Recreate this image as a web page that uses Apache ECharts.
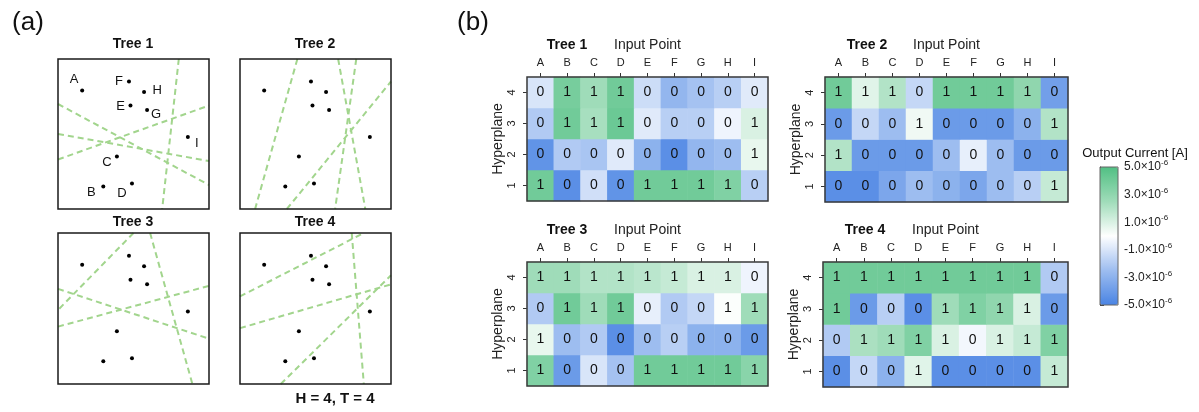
<!DOCTYPE html>
<html><head><meta charset="utf-8">
<script src="https://cdn.jsdelivr.net/npm/echarts@6/dist/echarts.min.js"></script>
<style>html,body{margin:0;padding:0;background:#fff}#c{width:1199px;height:412px}</style>
</head><body><div id="c"></div>
<script>
// ---------- DATA ----------
const pointNames = ['A','B','C','D','E','F','G','H','I'];
const pointX = [0.16, 0.30, 0.39, 0.49, 0.48, 0.47, 0.59, 0.57, 0.86];
const pointY = [0.79, 0.15, 0.35, 0.17, 0.69, 0.85, 0.66, 0.78, 0.48];

// hyperplanes (dashed lines), each as two end points in the unit square
const tree1Planes = [[[0,0.70],[1,0.16]], [[0,0.50],[1,0.32]], [[0,0.33],[1,0.69]], [[0.80,1],[0.69,0]]];
const tree2Planes = [[[0.38,1],[0.10,0]], [[0.65,1],[0.83,0]], [[0.77,1],[0.63,0]], [[0.31,0],[1,0.85]]];
const tree3Planes = [[[0.50,1],[0,0.49]], [[0.61,1],[0.89,0]], [[0,0.63],[1,0.30]], [[0,0.38],[1,0.65]]];
const tree4Planes = [[[0,0.58],[0.82,1]], [[0,0.37],[1,0.66]], [[0.74,1],[0.82,0]], [[0.27,0],[1,0.72]]];

const hyperplanes = ['1','2','3','4'];
// output current in units of 1e-6 A, rows = hyperplane 1..4, columns = A..I
const tree1Current = [
  [ 4.0,-4.5,-1.2,-4.3, 4.0, 4.0, 4.0, 3.5,-1.8],
  [-4.3,-2.0,-2.2,-0.8,-3.0,-4.5,-2.8,-2.5, 0.6],
  [-2.0, 4.0, 2.3, 4.2,-0.8,-1.8,-1.8,-0.4, 1.0],
  [-1.0, 3.8, 2.5, 4.0,-1.3,-2.8,-2.3,-1.8,-0.8]
];
const tree2Current = [
  [-4.5,-4.5,-3.5,-2.5,-3.0,-3.5,-2.5,-1.8, 1.5],
  [ 2.0,-4.0,-4.0,-4.0,-2.5,-0.6,-2.5,-4.0,-4.0],
  [-4.0,-1.5,-2.5, 0.4,-4.0,-4.0,-4.0,-3.0, 2.0],
  [ 4.0, 0.8, 2.0,-1.5, 4.0, 4.0, 4.0, 3.0,-3.8]
];
const tree3Current = [
  [ 3.5,-4.0,-1.0,-2.3, 4.0, 4.0, 4.0, 4.0, 3.2],
  [ 0.6,-2.5,-2.0,-4.5,-2.5,-1.8,-3.0,-3.0,-4.0],
  [-2.0, 4.0, 2.5, 4.0,-0.6,-2.0,-1.5, 0.1, 2.5],
  [ 2.5, 2.5, 2.0, 2.0, 1.8, 1.5, 1.0, 1.0,-0.4]
];
const tree4Current = [
  [-4.5,-1.5,-3.0, 0.8,-4.5,-4.5,-4.5,-4.5, 1.5],
  [-2.0, 2.2, 2.5, 3.5, 1.0,-0.3, 1.0, 1.5, 3.5],
  [ 4.0,-4.0,-1.8,-4.5, 2.5, 3.5, 3.0, 1.0,-4.0],
  [ 4.0, 4.0, 4.0, 4.0, 4.0, 4.0, 4.0, 4.0,-2.0]
];
const colorbarTicks = ['-5.0','','-3.0','','-1.0','','1.0','','3.0','','5.0'];
const colorbarExponent = '-6';
const currentMin = -5, currentMax = 5;

// ---------- LAYOUT / STYLE ----------
const FONT = "'Liberation Sans', Arial, sans-serif";
const treeGrids = [
  {left:58, top:59, width:151, height:150},
  {left:240, top:59, width:151, height:150},
  {left:58, top:233, width:151, height:151},
  {left:240, top:233, width:151, height:151}
];
const heatGrids = [
  {left:527, top:77, width:241, height:124},
  {left:825, top:77, width:243, height:125},
  {left:527, top:262, width:241, height:124},
  {left:823, top:262, width:245, height:125}
];
const labelOffsets = [[-8,-11],[-12,6],[-10,6],[-10,10],[-10,1],[-10,0],[9,4],[13,-2],[9,6]];
const planeSets = [tree1Planes, tree2Planes, tree3Planes, tree4Planes];
const currents = [tree1Current, tree2Current, tree3Current, tree4Current];

const grid = [], xAxis = [], yAxis = [], series = [];
treeGrids.forEach((g, i) => {
  grid.push(Object.assign({show:true, borderColor:'#1a1a1a', borderWidth:1.5, backgroundColor:'transparent', z:10}, g));
  xAxis.push({type:'value', gridIndex:i, min:0, max:1, show:false});
  yAxis.push({type:'value', gridIndex:i, min:0, max:1, show:false});
  planeSets[i].forEach(p => {
    series.push({type:'line', xAxisIndex:i, yAxisIndex:i, data:p, symbol:'none', silent:true,
      lineStyle:{color:'#a2d58d', width:2, type:[6,4]}, animation:false});
  });
  series.push({type:'scatter', xAxisIndex:i, yAxisIndex:i, symbolSize:4, itemStyle:{color:'#000', opacity:1}, animation:false, z:5,
    data: pointX.map((x, k) => ({value:[x, pointY[k]],
      label: i === 0 ? {show:true, formatter: pointNames[k], position:'inside', offset: labelOffsets[k],
        color:'#111', fontSize:13, fontFamily:FONT} : {show:false}}))
  });
});
const heatSeriesIdx = [];
heatGrids.forEach((g, j) => {
  const gi = 4 + j;
  grid.push(Object.assign({show:true, borderColor:'#3a3a3a', borderWidth:1.5, backgroundColor:'transparent', z:10}, g));
  xAxis.push({type:'category', gridIndex:gi, data:pointNames, position:'top',
    axisLine:{show:false}, axisTick:{show:true, alignWithLabel:true, length:4, lineStyle:{color:'#333'}},
    axisLabel:{fontSize:11, color:'#222', margin:9, fontFamily:FONT},
    name:'Input Point', nameLocation:'middle', nameGap:25, nameTextStyle:{fontSize:14, color:'#222', fontFamily:FONT}});
  yAxis.push({type:'category', gridIndex:gi, data:hyperplanes,
    axisLine:{show:false}, axisTick:{show:true, alignWithLabel:true, length:4, lineStyle:{color:'#333'}},
    axisLabel:{fontSize:11, color:'#222', rotate:90, margin:10, fontFamily:FONT},
    name:'Hyperplane', nameLocation:'middle', nameGap:22, nameTextStyle:{fontSize:14, color:'#222', fontFamily:FONT}});
  const data = [];
  currents[j].forEach((row, r) => row.forEach((v, c) => data.push([c, r, v])));
  heatSeriesIdx.push(series.length);
  series.push({type:'heatmap', xAxisIndex:gi, yAxisIndex:gi, data, animation:false,
    label:{show:true, fontSize:14, color:'#111', fontFamily:FONT, formatter: p => p.value[2] > 0 ? '1' : '0'},
    emphasis:{disabled:true}});
});
// colorbar axis grid
grid.push({left:1100, top:167, width:18, height:138, show:true, borderColor:'#666', borderWidth:1, backgroundColor:'transparent', z:10});
xAxis.push({type:'value', gridIndex:8, show:false, min:0, max:1});
yAxis.push({type:'category', gridIndex:8, position:'right', data:colorbarTicks, boundaryGap:false,
  axisLine:{show:true, lineStyle:{color:'#333', width:1}},
  axisTick:{show:true, length:4, interval: idx => idx % 2 === 0, lineStyle:{color:'#333'}},
  axisLabel:{interval:0, margin:6, color:'#222',
    formatter: v => v ? '{m|' + v + '×10}{e|' + colorbarExponent + '}' : '',
    rich:{m:{fontSize:12, fontFamily:FONT, color:'#222'}, e:{fontSize:8, fontFamily:FONT, color:'#222', padding:[0,0,8,0]}}}});

const textEl = (x, y, t, font) => ({type:'text', x, y, style:{text:t, font, fill:'#111', textAlign:'center', textVerticalAlign:'middle'}});
const option = {
  animation:false,
  grid, xAxis, yAxis, series,
  visualMap:{type:'continuous', min:currentMin, max:currentMax, seriesIndex:heatSeriesIdx,
    orient:'vertical', left:1095, top:162, itemWidth:18, itemHeight:138, text:null, calculable:false,
    showLabel:false, padding:5, hoverLink:false,
    inRange:{color:['#4a84e3','#9dbdf0','#ffffff','#9fdcb9','#52c084']}},
  graphic:[
    textEl(28, 23, '(a)', "26px " + FONT),
    textEl(473, 23, '(b)', "26px " + FONT),
    textEl(133, 44, 'Tree 1', "bold 14px " + FONT),
    textEl(315, 44, 'Tree 2', "bold 14px " + FONT),
    textEl(133, 222, 'Tree 3', "bold 14px " + FONT),
    textEl(315, 222, 'Tree 4', "bold 14px " + FONT),
    textEl(335, 399, 'H = 4, T = 4', "bold 15px " + FONT),
    textEl(567, 45, 'Tree 1', "bold 14px " + FONT),
    textEl(867, 45, 'Tree 2', "bold 14px " + FONT),
    textEl(567, 230, 'Tree 3', "bold 14px " + FONT),
    textEl(865, 230, 'Tree 4', "bold 14px " + FONT),
    textEl(1135, 153, 'Output Current [A]', "13px " + FONT)
  ]
};
const chart = echarts.init(document.getElementById('c'), null, {renderer:'canvas'});
chart.setOption(option);
</script></body></html>
